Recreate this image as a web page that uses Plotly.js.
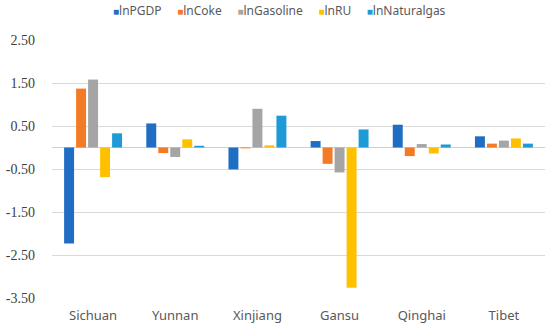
<!DOCTYPE html>
<html>
<head>
<meta charset="utf-8">
<script src="https://cdn.plot.ly/plotly-3.0.1.min.js"></script>
<style>html,body{margin:0;padding:0;background:#fff;}#chart{width:550px;height:325px;}</style>
</head>
<body>
<div id="chart"></div>
<script>
var categories = ["Sichuan", "Yunnan", "Xinjiang", "Gansu", "Qinghai", "Tibet"];
var seriesNames = ["lnPGDP", "lnCoke", "lnGasoline", "lnRU", "lnNaturalgas"];
var seriesColors = ["#1F6EC4", "#F47B25", "#A5A5A5", "#FFC000", "#1E9BD7"];
var lnPGDP = [-2.23, 0.56, -0.51, 0.15, 0.53, 0.26];
var lnCoke = [1.37, -0.13, -0.02, -0.38, -0.20, 0.09];
var lnGasoline = [1.58, -0.22, 0.90, -0.58, 0.08, 0.16];
var lnRU = [-0.69, 0.19, 0.05, -3.26, -0.14, 0.21];
var lnNaturalgas = [0.33, 0.04, 0.74, 0.42, 0.07, 0.09];
var yTickVals = [-3.5, -2.5, -1.5, -0.5, 0.5, 1.5, 2.5];
var yTickText = ["-3.50", "-2.50", "-1.50", "-0.50", "0.50", "1.50", "2.50"];

var allSeries = [lnPGDP, lnCoke, lnGasoline, lnRU, lnNaturalgas];
var traces = allSeries.map(function (vals, i) {
  return {
    type: "bar",
    x: categories,
    y: vals,
    name: seriesNames[i],
    marker: { color: seriesColors[i] },
    showlegend: false,
    hoverinfo: "x+y+name"
  };
});

var legendText = seriesNames.map(function (n, i) {
  return "<span style='color:" + seriesColors[i] + ";font-size:10px'>■</span>" + n;
}).join("&nbsp;&nbsp;&nbsp;&nbsp;&nbsp;");

var layout = {
  width: 550,
  height: 325,
  margin: { l: 52, r: 5, t: 40, b: 27 },
  paper_bgcolor: "#ffffff",
  plot_bgcolor: "#ffffff",
  barmode: "group",
  bargap: 0.27,
  bargroupgap: 0.17,
  xaxis: {
    type: "category",
    showgrid: false,
    showline: false,
    ticks: "",
    ticklabelstandoff: 8,
    tickfont: { family: "Noto Sans, Liberation Sans, sans-serif", size: 13, color: "#595959" }
  },
  yaxis: {
    range: [-3.5, 2.5],
    tickvals: yTickVals,
    ticktext: yTickText,
    showgrid: true,
    gridcolor: "#D9D9D9",
    gridwidth: 1,
    zeroline: true,
    zerolinecolor: "#D0D0D0",
    zerolinewidth: 1,
    showline: false,
    ticks: "",
    ticklabelstandoff: 16,
    tickfont: { family: "Liberation Serif, Times New Roman, serif", size: 14, color: "#404040" }
  },
  annotations: [{
    xref: "paper", yref: "paper",
    x: 0.461, y: 1, yshift: 30,
    xanchor: "center", yanchor: "middle",
    showarrow: false,
    text: legendText,
    font: { family: "Noto Sans, Liberation Sans, sans-serif", size: 12, color: "#595959" }
  }]
};

Plotly.newPlot("chart", traces, layout, { displayModeBar: false, staticPlot: true });
</script>
</body>
</html>
